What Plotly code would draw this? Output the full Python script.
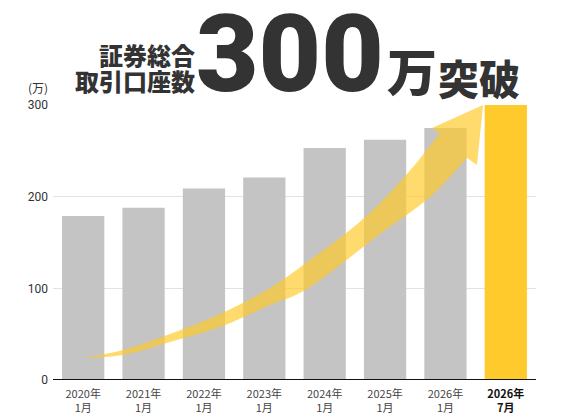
import plotly.graph_objects as go
import numpy as np

# ---- data ----
years = ["2020年", "2021年", "2022年", "2023年", "2024年", "2025年", "2026年", "2026年"]
months = ["1月", "1月", "1月", "1月", "1月", "1月", "1月", "7月"]
values = [179, 188, 209, 221, 253, 262, 275, 300]
ytick_vals = [0, 100, 200, 300]

GRAY = "#c4c4c4"
YELLOW = "#ffca2c"
TEXT = "#333333"

W, H = 567, 417
L, R, T, B = 53, 31, 105, 37
PW, PH = W - L - R, H - T - B
N = len(values)
YMAX = 300


def dx(x):
    return (x - L) / PW * N - 0.5


def dy(y):
    return (H - B - y) / PH * YMAX


def pxp(x):
    return (x - L) / PW


def pyp(y):
    return (H - B - y) / PH


xs = list(range(N))
ticktext = [f"{y}<br>{m}" for y, m in zip(years, months)]
ticktext[-1] = f"<span style='color:#111'><b>{years[-1]}<br>{months[-1]}</b></span>"
colors = [GRAY] * (N - 1) + [YELLOW]

fig = go.Figure()
fig.add_trace(go.Bar(x=xs, y=values, marker=dict(color=colors, line=dict(width=0)),
                     width=0.7, hoverinfo="skip"))


def catmull(pts, n=8):
    pts = np.array(pts, dtype=float)
    P = np.vstack([pts[0], pts, pts[-1]])
    out = []
    for i in range(1, len(P) - 2):
        p0, p1, p2, p3 = P[i - 1], P[i], P[i + 1], P[i + 2]
        for t in np.linspace(0, 1, n, endpoint=False):
            t2, t3 = t * t, t * t * t
            out.append(0.5 * ((2 * p1) + (-p0 + p2) * t + (2 * p0 - 5 * p1 + 4 * p2 - p3) * t2
                              + (-p0 + 3 * p1 - 3 * p2 + p3) * t3))
    out.append(P[-2])
    return out


upper = [(82, 358), (123, 350), (170, 334), (220, 314), (270, 288), (310, 260),
         (350, 230), (380, 203), (413, 167), (440, 133)]
head = [(432, 128), (483, 105), (477, 165)]
lower = [(467, 158), (430, 197), (380, 234), (310, 287), (270, 305), (220, 327),
         (170, 342), (123, 355), (82, 358)]
poly = catmull(upper) + head + catmull(lower)
path = "M " + " L ".join(f"{dx(p[0]):.4f},{dy(p[1]):.3f}" for p in poly) + " Z"
fig.add_shape(type="path", path=path, xref="x", yref="y", layer="above",
              fillcolor="rgba(255,200,40,0.68)", line=dict(width=0))

CJK = "Noto Sans CJK JP, Noto Sans CJK SC, sans-serif"

annotations = [
    dict(text="証券総合", x=pxp(197), y=pyp(55), xanchor="right", yanchor="middle",
         font=dict(size=24, family=CJK, color=TEXT, weight=900)),
    dict(text="取引口座数", x=pxp(197), y=pyp(80), xanchor="right", yanchor="middle",
         font=dict(size=24, family=CJK, color=TEXT, weight=900)),
    dict(text="300", x=pxp(290), y=pyp(54), xanchor="center", yanchor="middle",
         height=92, font=dict(size=108, family="Roboto, sans-serif", color=TEXT, weight=900)),
    dict(text="万", x=pxp(412), y=pyp(69), xanchor="center", yanchor="middle",
         font=dict(size=50, family=CJK, color=TEXT, weight=900)),
    dict(text="突破", x=pxp(479), y=pyp(77), xanchor="center", yanchor="middle",
         font=dict(size=41, family=CJK, color=TEXT, weight=900)),
    dict(text="(万)", x=pxp(38), y=pyp(87), xanchor="center", yanchor="middle",
         font=dict(size=12, family=CJK, color=TEXT)),
]
for a in annotations:
    a.update(xref="paper", yref="paper", showarrow=False)

fig.update_layout(
    width=W, height=H, margin=dict(l=L, r=R, t=T, b=B, autoexpand=False),
    paper_bgcolor="white", plot_bgcolor="white", showlegend=False,
    annotations=annotations, bargap=0.3,
    xaxis=dict(range=[-0.5, N - 0.5], tickvals=xs, ticktext=ticktext, showgrid=False,
               zeroline=False, showline=False, ticks="", ticklabelstandoff=6, automargin=False,
               tickfont=dict(size=11, color="#444", family="Noto Sans CJK JP, sans-serif")),
    yaxis=dict(range=[0, YMAX], tickvals=ytick_vals, showgrid=True, gridcolor="#e2e2e2",
               gridwidth=1, zeroline=False, showline=False, ticks="", ticklabelstandoff=4,
               automargin=False,
               tickfont=dict(size=12, color=TEXT, family="Roboto, sans-serif")),
)
fig.add_shape(type="line", xref="paper", yref="y", x0=0, x1=1, y0=0, y1=0,
              line=dict(color="#111", width=2), layer="above")

fig.write_html("out.html")
